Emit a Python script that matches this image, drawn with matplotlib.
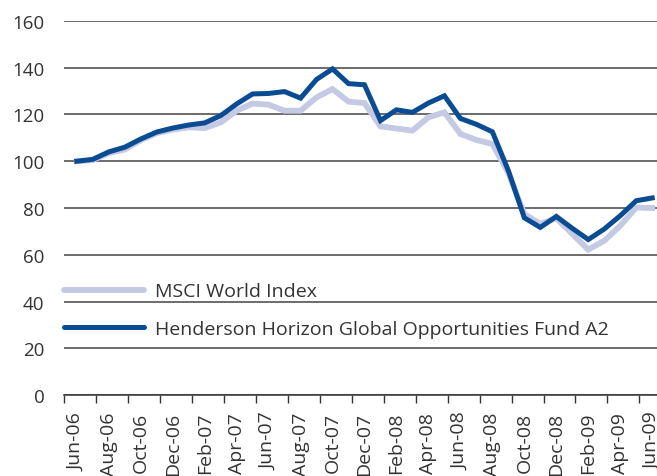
import matplotlib
matplotlib.use("Agg")
import matplotlib.pyplot as plt
import numpy as np

plt.rcParams['font.family'] = ['Open Sans', 'DejaVu Sans']

# monthly, Jun-06 .. Jun-09
months = ["Jun-06", "Jul-06", "Aug-06", "Sep-06", "Oct-06", "Nov-06", "Dec-06",
          "Jan-07", "Feb-07", "Mar-07", "Apr-07", "May-07", "Jun-07", "Jul-07",
          "Aug-07", "Sep-07", "Oct-07", "Nov-07", "Dec-07", "Jan-08", "Feb-08",
          "Mar-08", "Apr-08", "May-08", "Jun-08", "Jul-08", "Aug-08", "Sep-08",
          "Oct-08", "Nov-08", "Dec-08", "Jan-09", "Feb-09", "Mar-09", "Apr-09",
          "May-09", "Jun-09"]

msci = [100, 100.5, 103.5, 105, 109, 112, 113.5, 114.5, 114.2, 116.6, 121.6, 124.7,
        124.2, 121.6, 121.6, 127.3, 130.9, 125.5, 124.9, 114.9, 114, 113.1, 118.8,
        120.9, 111.7, 109.1, 107.4, 95, 77.4, 73.2, 75.6, 68.9, 62.2, 66, 72.4,
        80.2, 80]

fund = [100, 100.8, 104, 106, 109.5, 112.5, 114.2, 115.5, 116.4, 119.5, 124.5, 128.8,
        129, 129.8, 127, 135, 139.5, 133.2, 132.7, 117.4, 122, 120.9, 124.9, 128,
        118.3, 115.8, 112.6, 96, 75.8, 71.7, 76.4, 71.3, 66.5, 71, 76.7, 83.1, 84.3]

yticks = [0, 20, 40, 60, 80, 100, 120, 140, 160]

light = "#c4c9e4"
dark = "#0a4c93"

fig = plt.figure(figsize=(6.57, 4.77), dpi=100)
ax = fig.add_axes([0.0974, 0.1698, 0.9026, 0.7841])

x = np.arange(len(months))
ax.plot(x, msci, color=light, lw=4.2, solid_joinstyle='miter', label="MSCI World Index", zorder=3)
ax.plot(x, fund, color=dark, lw=3.6, solid_joinstyle='miter',
        label="Henderson Horizon Global Opportunities Fund A2", zorder=4)

ax.set_ylim(0, 160)
ax.set_xlim(-0.8, 36.3)
ax.set_yticks(yticks)
ax.yaxis.grid(True, color="#444444", lw=1.1)
ax.set_axisbelow(True)
ax.tick_params(axis='y', length=0, pad=14, labelsize=13.5, labelcolor="#333333")

# tick marks between label pairs, labels on every second month
ax.set_xticks(np.arange(-0.8, 37, 2))
ax.set_xticklabels([])
ax.tick_params(axis='x', which='major', length=6, width=1, color="#333333", direction='out')
ax.set_xticks(x[::2], minor=True)
ax.set_xticklabels(months[::2], minor=True, rotation=90)
ax.tick_params(axis='x', which='minor', length=0, pad=12, labelsize=14, labelcolor="#333333")

for s in ['left', 'right', 'top']:
    ax.spines[s].set_visible(False)
ax.spines['bottom'].set_color("#333333")
ax.spines['bottom'].set_linewidth(1.1)

leg = ax.legend(loc='center left', bbox_to_anchor=(0.0, 0.227), frameon=False,
                fontsize=14, handlelength=4.1, handletextpad=0.57, labelspacing=1.0,
                borderpad=0, borderaxespad=0)
for t in leg.get_texts():
    t.set_color("#333333")
for h in leg.legend_handles:
    h.set_solid_capstyle('round')

fig.savefig("out.png", dpi=100)
